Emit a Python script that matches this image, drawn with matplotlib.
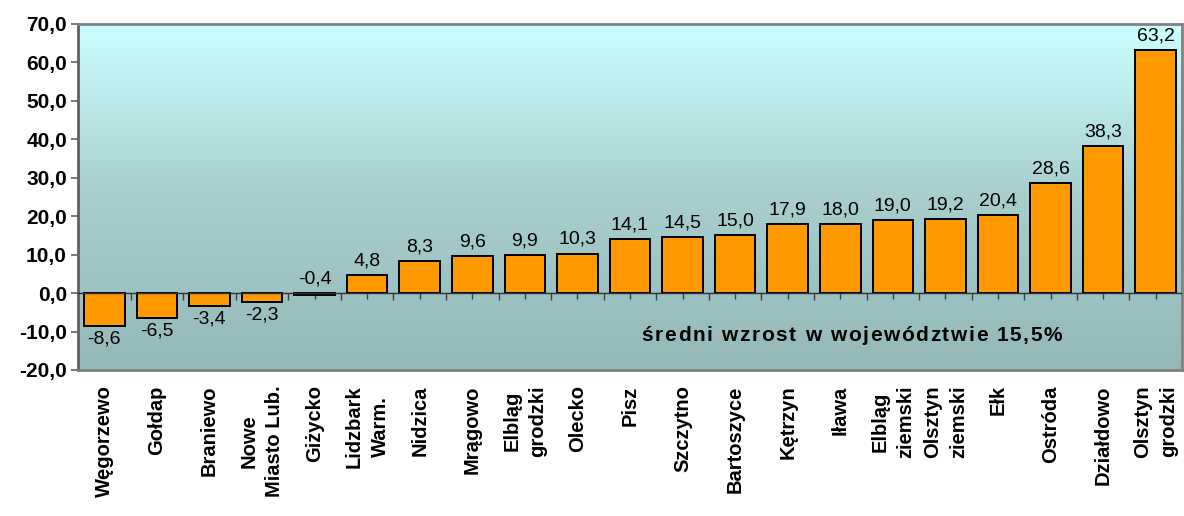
import numpy as np
import matplotlib
matplotlib.use("Agg")
import matplotlib.pyplot as plt
from matplotlib.colors import LinearSegmentedColormap
from matplotlib.font_manager import FontProperties

categories = ["Węgorzewo", "Gołdap", "Braniewo", "Nowe\nMiasto Lub.", "Giżycko",
              "Lidzbark\nWarm.", "Nidzica", "Mrągowo", "Elbląg\ngrodzki", "Olecko",
              "Pisz", "Szczytno", "Bartoszyce", "Kętrzyn", "Iława",
              "Elbląg\nziemski", "Olsztyn\nziemski", "Ełk", "Ostróda", "Działdowo",
              "Olsztyn\ngrodzki"]
values = [-8.6, -6.5, -3.4, -2.3, -0.4, 4.8, 8.3, 9.6, 9.9, 10.3, 14.1, 14.5,
          15.0, 17.9, 18.0, 19.0, 19.2, 20.4, 28.6, 38.3, 63.2]
yticks = [-20, -10, 0, 10, 20, 30, 40, 50, 60, 70]
note = "średni wzrost w województwie 15,5%"

plt.rcParams['font.family'] = ['Liberation Sans', 'DejaVu Sans']

fig = plt.figure(figsize=(11.84, 5.16), dpi=100)
ax = fig.add_axes([78/1184, 1-370/516, (1182-78)/1184, (370-24)/516])

n = len(categories)
x = np.arange(n)
ax.set_xlim(-0.5, n-0.5)
ax.set_ylim(-20, 70)

# gradient background
cmap = LinearSegmentedColormap.from_list("bg", ["#94B8B8", "#A8CECE", "#CCFFFF"])
grad = np.linspace(0, 1, 256).reshape(-1, 1)
ax.imshow(grad, aspect='auto', cmap=cmap, origin='lower',
          extent=[0, 1, 0, 1], transform=ax.transAxes, zorder=0)

ax.bar(x, values, width=0.77, color="#FF9900", edgecolor="black", linewidth=1.4, zorder=2)
ax.axhline(0, color="#303030", linewidth=1.0, zorder=3)

for xi, v in zip(x, values):
    s = f"{v:.1f}".replace(".", ",")
    if v >= -1:
        ax.annotate(s, (xi, max(v, 0)), xytext=(0, 4), textcoords="offset points",
                    ha="center", va="bottom", fontsize=14, zorder=4)
    else:
        ax.annotate(s, (xi, v), xytext=(0, -3), textcoords="offset points",
                    ha="center", va="top", fontsize=14, zorder=4)

ax.set_yticks(yticks)
ax.set_yticklabels([f"{t:.1f}".replace(".", ",") for t in yticks],
                   fontsize=15, fontweight="bold")
ax.set_xticks(x)
ax.set_xticklabels(categories, rotation=90, fontsize=14.5, fontweight="bold",
                   ha="center", va="top", multialignment="center", linespacing=1.45)
ax.tick_params(axis='x', length=0, pad=11)
ax.tick_params(axis='y', length=5, width=1.2, color="#606060", direction="out", pad=3)

# tick marks on the zero axis
sec = ax.secondary_xaxis((0 - (-20)) / 90)
sec.set_xticks(np.arange(n + 1) - 0.5)
sec.set_xticks(x, minor=True)
sec.set_xticklabels([])
sec.tick_params(which="major", direction="out", length=5, width=1.0, color="#404040")
sec.tick_params(which="minor", direction="out", length=4, width=1.0, color="#404040")
sec.spines['bottom'].set_visible(False)

for sp in ax.spines.values():
    sp.set_color("#808080")
    sp.set_linewidth(2)
ax.spines['left'].set_color("#606060")

# note text with letter tracking
fig.canvas.draw()
renderer = fig.canvas.get_renderer()
prop = FontProperties(family=['Liberation Sans', 'DejaVu Sans'], weight="bold", size=15)
tracking = 1.6  # px
widths = [renderer.get_text_width_height_descent(c, prop, ismath=False)[0] for c in note]
total = sum(widths) + tracking * (len(note) - 1)
cx, cy = ax.transAxes.transform((0.701, 0.101))
px = cx - total / 2
inv = ax.transAxes.inverted()
for c, w in zip(note, widths):
    if c != " ":
        ax.text(*inv.transform((px, cy)), c, transform=ax.transAxes, ha="left",
                va="center", fontproperties=prop, zorder=4)
    px += w + tracking

fig.savefig("out.png", dpi=100)
